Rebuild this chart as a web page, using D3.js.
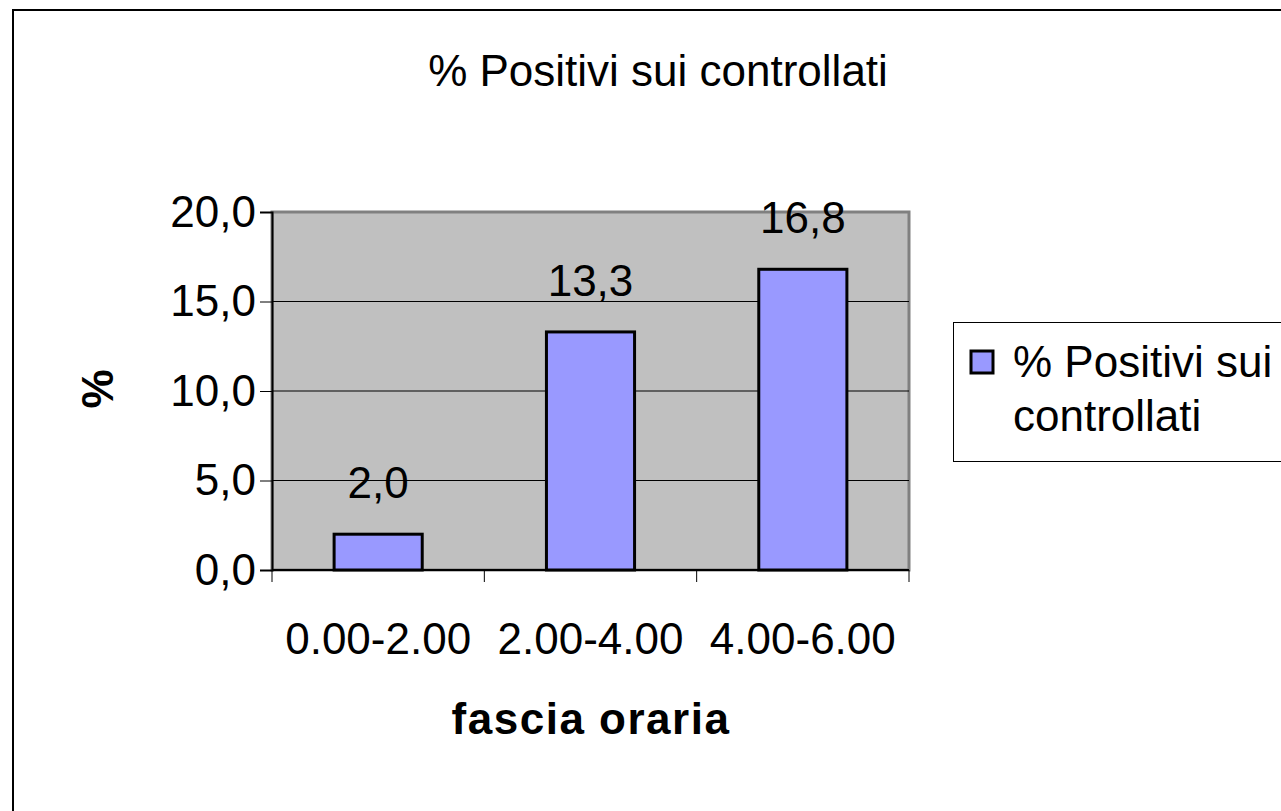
<!DOCTYPE html>
<html>
<head>
<meta charset="utf-8">
<script src="https://cdn.jsdelivr.net/npm/d3@7"></script>
<style>
  body { margin: 0; background: #fff; }
  text { font-family: "Liberation Sans", Arial, sans-serif; }
</style>
</head>
<body>
<div id="my_dataviz"></div>
<script>
// data
var categories = ["0.00-2.00", "2.00-4.00", "4.00-6.00"];
var values = [2.0, 13.3, 16.8];
var yTicks = [0, 5, 10, 15, 20];
var seriesName = "% Positivi sui controllati";

var W = 1281, H = 811;
var plot = { left: 272, right: 909, top: 212, bottom: 570 };
var fontSize = "44px";

var svg = d3.select("#my_dataviz")
    .append("svg")
    .attr("width", W)
    .attr("height", H);

// outer chart border (runs off the right/bottom edge)
svg.append("rect")
    .attr("x", 13).attr("y", 10)
    .attr("width", 1400).attr("height", 1000)
    .attr("fill", "none")
    .attr("stroke", "#000")
    .attr("stroke-width", 2);

var fmt = function (v) { return d3.format(".1f")(v).replace(".", ","); };

// scales
var x = d3.scaleBand()
    .domain(categories)
    .range([plot.left, plot.right]);
var barW = x.bandwidth() * 0.415;

var y = d3.scaleLinear()
    .domain([0, 20])
    .range([plot.bottom, plot.top]);

// plot area
svg.append("rect")
    .attr("x", plot.left).attr("y", plot.top)
    .attr("width", plot.right - plot.left)
    .attr("height", plot.bottom - plot.top)
    .attr("fill", "#C0C0C0")
    .attr("stroke", "#808080")
    .attr("stroke-width", 3);

// gridlines
svg.selectAll(".grid")
    .data(yTicks.filter(function (d) { return d > 0 && d < 20; }))
    .enter()
    .append("line")
    .attr("x1", plot.left).attr("x2", plot.right)
    .attr("y1", function (d) { return y(d); })
    .attr("y2", function (d) { return y(d); })
    .attr("stroke", "#000")
    .attr("stroke-width", 1);

// Y axis
var yAxis = svg.append("g")
    .attr("transform", "translate(" + plot.left + ",0)")
    .call(d3.axisLeft(y).tickValues(yTicks).tickFormat(fmt).tickSize(12).tickPadding(4));
yAxis.select(".domain").attr("stroke", "#000").attr("stroke-width", 2);
yAxis.selectAll("text")
    .style("font-family", "Liberation Sans, Arial, sans-serif")
    .style("font-size", fontSize)
    .attr("fill", "#000");

// X axis: ticks sit on category boundaries
var xAxis = svg.append("g")
    .attr("transform", "translate(0," + plot.bottom + ")");
xAxis.append("line")
    .attr("x1", plot.left).attr("x2", plot.right)
    .attr("stroke", "#000").attr("stroke-width", 2);
var bounds = categories.map(function (c) { return x(c); }).concat([plot.right]);
xAxis.selectAll(".xtick")
    .data(bounds)
    .enter()
    .append("line")
    .attr("x1", function (d) { return d; })
    .attr("x2", function (d) { return d; })
    .attr("y1", 0).attr("y2", 12)
    .attr("stroke", "#000");
xAxis.selectAll(".xlab")
    .data(categories)
    .enter()
    .append("text")
    .attr("x", function (d) { return x(d) + x.bandwidth() / 2; })
    .attr("y", 84)
    .attr("text-anchor", "middle")
    .style("font-size", fontSize)
    .text(function (d) { return d; });

// bars
svg.selectAll(".bar")
    .data(values)
    .enter()
    .append("rect")
    .attr("x", function (d, i) { return x(categories[i]) + (x.bandwidth() - barW) / 2; })
    .attr("y", function (d) { return y(d); })
    .attr("width", barW)
    .attr("height", function (d) { return y(0) - y(d); })
    .attr("fill", "#9999FF")
    .attr("stroke", "#000")
    .attr("stroke-width", 3);

// data labels
svg.selectAll(".lbl")
    .data(values)
    .enter()
    .append("text")
    .attr("x", function (d, i) { return x(categories[i]) + x.bandwidth() / 2; })
    .attr("y", function (d) { return y(d) - 36; })
    .attr("text-anchor", "middle")
    .style("font-size", fontSize)
    .text(function (d) { return fmt(d); });

// title
svg.append("text")
    .attr("x", 658).attr("y", 86)
    .attr("text-anchor", "middle")
    .style("font-size", fontSize)
    .text(seriesName);

// axis titles
svg.append("text")
    .attr("x", 591).attr("y", 734)
    .attr("text-anchor", "middle")
    .style("font-size", fontSize)
    .style("font-weight", "bold")
    .style("letter-spacing", "1.5px")
    .text("fascia oraria");

svg.append("text")
    .attr("transform", "translate(113,389) rotate(-90)")
    .attr("text-anchor", "middle")
    .style("font-size", fontSize)
    .style("font-weight", "bold")
    .text("%");

// legend
var legend = svg.append("g");
legend.append("rect")
    .attr("x", 953.5).attr("y", 322.5)
    .attr("width", 400).attr("height", 139)
    .attr("fill", "#fff")
    .attr("stroke", "#000")
    .attr("stroke-width", 1);
legend.append("rect")
    .attr("x", 971).attr("y", 351)
    .attr("width", 22).attr("height", 22)
    .attr("fill", "#9999FF")
    .attr("stroke", "#000")
    .attr("stroke-width", 3);
legend.append("text")
    .attr("x", 1013).attr("y", 377)
    .style("font-size", fontSize)
    .text("% Positivi sui");
legend.append("text")
    .attr("x", 1013).attr("y", 431)
    .style("font-size", fontSize)
    .text("controllati");
</script>
</body>
</html>
